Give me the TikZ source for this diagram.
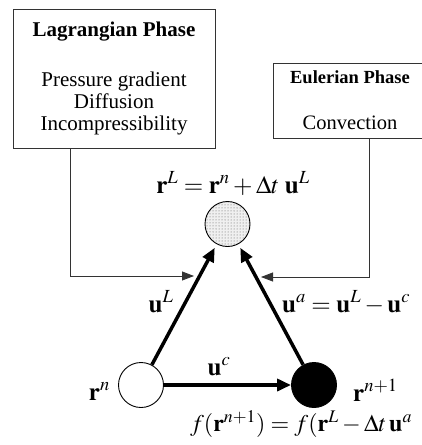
\documentclass[tikz,border=0pt]{standalone}
\usepackage{mathptmx}
\usepackage{fontspec}
\setmainfont{Liberation Serif}
\usetikzlibrary{positioning,arrows.meta,patterns}

\begin{document}
\begin{tikzpicture}[
  x=1pt, y=-1pt,
  phase/.style={draw=black!80, line width=0.8pt, align=center, inner sep=0pt},
  dot/.style={circle, draw, line width=0.9pt, minimum size=45pt, inner sep=0pt},
  lbl/.style={inner sep=0pt, font=\fontsize{25}{28}\selectfont},
  mv/.style={-{Triangle[length=14pt, width=12pt]}, line width=3.5pt},
  feed/.style={-{Triangle[length=12pt, width=9pt]}, line width=0.8pt, draw=black!80}
]
\useasboundingbox (0,0) rectangle (422,445);
% phase boxes
\node[phase, minimum width=202pt, minimum height=139pt, font=\fontsize{21}{22}\selectfont] (lag) at (114,78.5)
  {\textbf{Lagrangian Phase}\\[28pt] Pressure gradient\\ Diffusion\\ Incompressibility};
\node[phase, minimum width=154pt, minimum height=75pt, font=\fontsize{18.5}{20}\selectfont] (eul) at (350,100.5)
  {\textbf{Eulerian Phase}\\[26pt] {\fontsize{20.5}{22}\selectfont Convection}};
% particle positions
\node[dot, preaction={fill=gray!12}, pattern=dots, pattern color=black!65] (stip) at (227.5,224) {};
\node[dot, fill=white] (rn) at (141,385) {};
\node[dot, fill=black] (rn1) at (314,385) {};
% labels
\node[lbl, anchor=base] (eqL) at (233,193) {$\mathbf{r}^L = \mathbf{r}^n + \Delta t\;\mathbf{u}^L$};
\node[lbl, anchor=base] (uL) at (161,312) {$\mathbf{u}^L$};
\node[lbl, anchor=base west] (ua) at (282,312) {$\mathbf{u}^a = \mathbf{u}^L - \mathbf{u}^c$};
\node[lbl, anchor=base] (uc) at (219,375) {$\mathbf{u}^c$};
\node[lbl, anchor=base east] (rnl) at (110,400) {$\mathbf{r}^n$};
\node[lbl, anchor=base west] (rn1l) at (353,401) {$\mathbf{r}^{n+1}$};
\node[lbl, anchor=base west, font=\fontsize{24}{28}\selectfont] (eqf) at (190,431) {$f(\mathbf{r}^{n+1}) = f(\mathbf{r}^L - \Delta t\,\mathbf{u}^a$};
% moves
\draw[mv, shorten >=4pt] (rn) -- (stip);
\draw[mv, shorten >=4pt] (rn1) -- (stip);
\draw[mv] (rn) -- (rn1);
% feeds from the phases
\coordinate (lhit) at (194,276);
\coordinate (rhit) at (261,277);
\draw[feed] ([xshift=-44pt]lag.south) |- (lhit);
\draw[feed] ([xshift=19pt]eul.south) |- (rhit);
\end{tikzpicture}
\end{document}
